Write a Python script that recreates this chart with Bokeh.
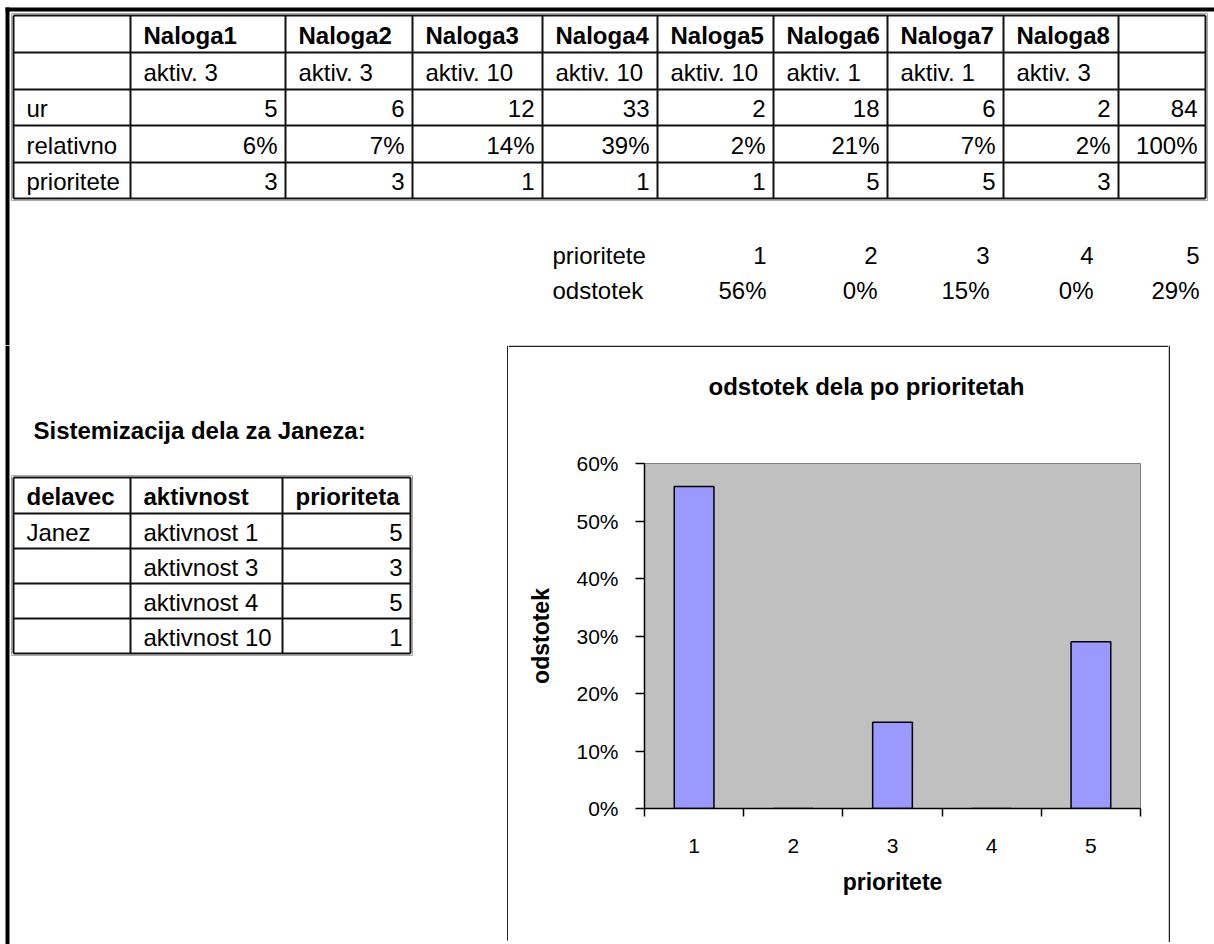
from bokeh.plotting import figure
from bokeh.layouts import column, row
from bokeh.models import Range1d, ColumnDataSource, FixedTicker, NumeralTickFormatter
from bokeh.core.properties import value
from bokeh.embed import file_html
from bokeh.resources import INLINE

# ---------------- data ----------------
naloge = ["Naloga1", "Naloga2", "Naloga3", "Naloga4", "Naloga5", "Naloga6", "Naloga7", "Naloga8"]
aktivnosti = ["aktiv. 3", "aktiv. 3", "aktiv. 10", "aktiv. 10", "aktiv. 10", "aktiv. 1", "aktiv. 1", "aktiv. 3"]
ure = [5, 6, 12, 33, 2, 18, 6, 2]
ure_skupaj = 84
relativno = [6, 7, 14, 39, 2, 21, 7, 2]
relativno_skupaj = 100
prioritete_nalog = [3, 3, 1, 1, 1, 5, 5, 3]
vrstice = ["", "", "ur", "relativno", "prioritete"]

prioritete = [1, 2, 3, 4, 5]
odstotek = [0.56, 0.0, 0.15, 0.0, 0.29]

naslov_janez = "Sistemizacija dela za Janeza:"
glava_janez = ["delavec", "aktivnost", "prioriteta"]
delavec = ["Janez", "", "", ""]
aktivnosti_janez = ["aktivnost 1", "aktivnost 3", "aktivnost 4", "aktivnost 10"]
prioriteta_janez = [5, 3, 5, 1]

naslov_grafa = "odstotek dela po prioritetah"
os_x = "prioritete"
os_y = "odstotek"

# ---------------- layout constants (pixels) ----------------
FONT = "Liberation Sans"
W, H = 1214, 944
TOP_H = 345
CH_L, CH_R, CH_T, CH_B = 508, 1168, 345, 940
TITLE_B = 400
TFS = "24px"

def canvas(x0, x1, y0, y1):
    p = figure(width=x1 - x0, height=y1 - y0, x_range=Range1d(x0, x1), y_range=Range1d(y1, y0),
               x_axis_type=None, y_axis_type=None, toolbar_location=None, tools="",
               output_backend="svg", min_border=0, outline_line_color=None,
               background_fill_color="white", border_fill_color="white", frame_align=False)
    p.grid.visible = False
    return p

def txt(p, xs, ys, texts, align="left", bold=False, size=TFS):
    src = ColumnDataSource(dict(x=list(xs), y=list(ys), t=[str(t) for t in texts]))
    p.text(x="x", y="y", text="t", source=src, text_font=value(FONT), text_font_size=size,
           text_font_style="bold" if bold else "normal", text_align=align,
           text_baseline="middle", text_color="black")

def segs(p, x0, y0, x1, y1, color="#111111", width=2):
    p.segment(x0=list(x0), y0=list(y0), x1=list(x1), y1=list(y1), line_color=color, line_width=width)

def grid(p, cols, rows):
    # soft outer shadow of the double border
    c0, c1, r0, r1 = cols[0], cols[-1], rows[0], rows[-1]
    segs(p, [c0 - 2, c0 - 2, c1 + 2, c0 - 2], [r0 - 2, r1 + 2, r0 - 2, r0 - 2],
         [c1 + 2, c1 + 2, c1 + 2, c0 - 2], [r0 - 2, r1 + 2, r1 + 2, r1 + 2], color="#A8A8A8", width=1)
    segs(p, cols, [r0] * len(cols), cols, [r1] * len(cols))
    segs(p, [c0] * len(rows), rows, [c1] * len(rows), rows)

# ---------------- top area ----------------
top = canvas(0, W, 0, TOP_H)
segs(top, [5], [9], [W], [9], color="black", width=4)          # page top border
segs(top, [7], [7], [7], [TOP_H], color="black", width=4)      # page left border

cols = [13, 130, 285, 412, 542, 657, 773, 887, 1003, 1118, 1205]
rows = [15, 52, 89, 125, 162, 198]
grid(top, cols, rows)
PADL, PADR = 13, 8
mid = [(a + b) / 2 + 1 for a, b in zip(rows[:-1], rows[1:])]

txt(top, [c + PADL for c in cols[1:9]], [mid[0]] * 8, naloge, bold=True)
txt(top, [c + PADL for c in cols[1:9]], [mid[1]] * 8, aktivnosti)
txt(top, [cols[0] + PADL] * 3, mid[2:5], vrstice[2:5])
txt(top, [c - PADR for c in cols[2:11]], [mid[2]] * 9, ure + [ure_skupaj], align="right")
txt(top, [c - PADR for c in cols[2:11]], [mid[3]] * 9,
    [f"{v}%" for v in relativno + [relativno_skupaj]], align="right")
txt(top, [c - PADR for c in cols[2:10]], [mid[4]] * 8, prioritete_nalog, align="right")

# summary block
sum_right = [766, 877, 989, 1093, 1199]
txt(top, [552, 552], [255, 290], ["prioritete", "odstotek"])
txt(top, sum_right, [255] * 5, prioritete, align="right")
txt(top, sum_right, [290] * 5, [f"{round(v * 100)}%" for v in odstotek], align="right")

# ---------------- left area ----------------
left = canvas(0, CH_L, TOP_H, H)
segs(left, [7], [TOP_H], [7], [H], color="black", width=4)
segs(left, [CH_L - 0.75], [CH_T], [CH_L - 0.75], [CH_B], color="#222222", width=1.5)
txt(left, [33], [430], [naslov_janez], bold=True)
jcols = [13, 130, 282, 410]
jrows = [477, 513, 548, 583, 618, 653]
grid(left, jcols, jrows)
jmid = [(a + b) / 2 + 1 for a, b in zip(jrows[:-1], jrows[1:])]
txt(left, [c + PADL for c in jcols[:3]], [jmid[0]] * 3, glava_janez, bold=True)
txt(left, [jcols[0] + PADL] * 4, jmid[1:], delavec)
txt(left, [jcols[1] + PADL] * 4, jmid[1:], aktivnosti_janez)
txt(left, [jcols[3] - PADR] * 4, jmid[1:], prioriteta_janez, align="right")

# ---------------- chart title strip ----------------
tstrip = canvas(CH_L, CH_R, CH_T, TITLE_B)
segs(tstrip, [CH_L], [CH_T + 0.75], [CH_R], [CH_T + 0.75], color="#222222", width=1.5)  # chart box top
txt(tstrip, [708], [386], [naslov_grafa], bold=True, size="24px")

# ---------------- chart ----------------
PL, PR, PT, PB = 644, 1140, 463, 808
chart = figure(width=CH_R - CH_L, height=CH_B - TITLE_B, x_range=Range1d(0.5, 5.5), y_range=Range1d(0, 0.6),
               title=None, toolbar_location=None, tools="", output_backend="svg",
               min_border_left=PL - CH_L, min_border_right=CH_R - PR,
               min_border_top=PT - TITLE_B, min_border_bottom=CH_B - PB,
               background_fill_color="#C0C0C0", border_fill_color="white",
               outline_line_color="#808080", frame_align=False)
chart.grid.visible = False
chart.vbar(x=prioritete, top=odstotek, width=0.4, fill_color="#9999FF", line_color="black", line_width=1.5)

xa = chart.xaxis[0]
xa.ticker = FixedTicker(ticks=prioritete, minor_ticks=[p - 0.5 for p in prioritete] + [prioritete[-1] + 0.5])
xa.major_tick_out = 0
xa.major_tick_in = 0
xa.minor_tick_out = 8
xa.minor_tick_in = 0
xa.minor_tick_line_color = "black"
xa.minor_tick_line_width = 1.5
xa.axis_line_color = "black"
xa.axis_line_width = 1.5
xa.major_label_standoff = 22
xa.major_label_text_font = FONT
xa.major_label_text_font_size = "21px"
xa.major_label_text_color = "black"
xa.axis_label = os_x
xa.axis_label_text_font = FONT
xa.axis_label_text_font_size = "23px"
xa.axis_label_text_font_style = "bold"
xa.axis_label_text_color = "black"
xa.axis_label_standoff = 13

ya = chart.yaxis[0]
ya.ticker = FixedTicker(ticks=[0, 0.1, 0.2, 0.3, 0.4, 0.5, 0.6], minor_ticks=[])
ya.formatter = NumeralTickFormatter(format="0%")
ya.major_tick_out = 9
ya.major_tick_in = 0
ya.major_tick_line_color = "black"
ya.major_tick_line_width = 1.5
ya.minor_tick_out = 0
ya.minor_tick_in = 0
ya.axis_line_color = "black"
ya.axis_line_width = 1.5
ya.major_label_standoff = 17
ya.major_label_text_font = FONT
ya.major_label_text_font_size = "21px"
ya.major_label_text_color = "black"
ya.axis_label = os_y
ya.axis_label_text_font = FONT
ya.axis_label_text_font_size = "23px"
ya.axis_label_text_font_style = "bold"
ya.axis_label_text_color = "black"
ya.axis_label_standoff = 19

strip = canvas(CH_L, CH_R, CH_B, H)
segs(strip, [CH_L], [CH_B + 0.75], [CH_R], [CH_B + 0.75], color="#222222", width=1.5)

right = canvas(CH_R, W, TOP_H, H)
segs(right, [CH_R + 0.75], [CH_T], [CH_R + 0.75], [CH_B + 1.5], color="#222222", width=1.5)

layout = column(top, row(left, column(tstrip, chart, strip), right))
open("out.html", "w").write(file_html(layout, INLINE))
